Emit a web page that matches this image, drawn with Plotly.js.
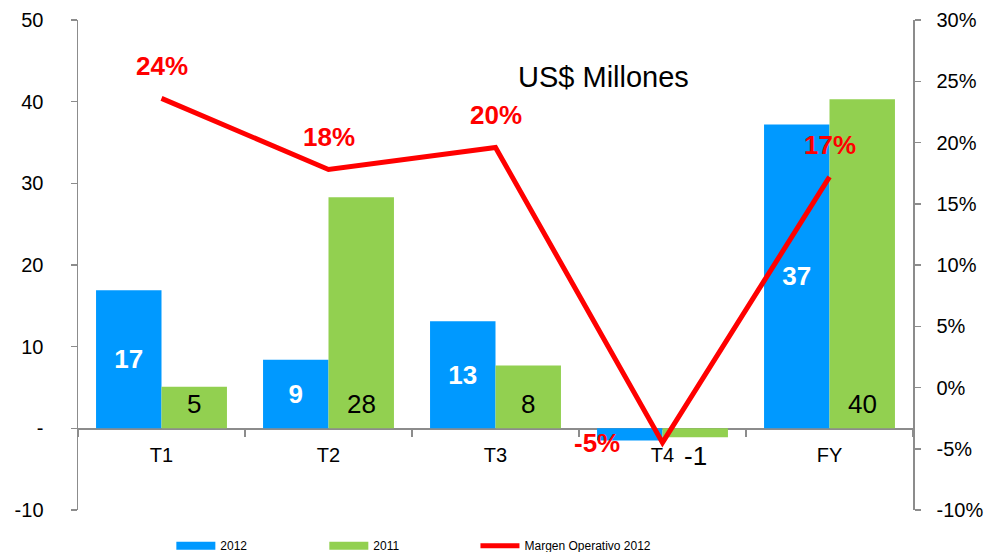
<!DOCTYPE html>
<html>
<head>
<meta charset="utf-8">
<script src="https://cdn.plot.ly/plotly-3.0.1.min.js"></script>
<style>html,body{margin:0;padding:0;background:#fff;}#chart{width:984px;height:552px;}</style>
</head>
<body>
<div id="chart"></div>
<script>
// ---- data ----
const categories = ['T1', 'T2', 'T3', 'T4', 'FY'];
const values2012 = [16.9, 8.4, 13.1, -1.5, 37.2];
const values2011 = [5.1, 28.3, 7.7, -1.1, 40.3];
const labels2012 = ['17', '9', '13', '', '37'];
const labels2011 = ['5', '28', '8', '-1', '40'];
const margin2012 = [0.236, 0.178, 0.196, -0.045, 0.172];
const marginLabels = ['24%', '18%', '20%', '-5%', '17%'];
const leftTickVals = [-10, 0, 10, 20, 30, 40, 50];
const leftTickText = ['-10', '-', '10', '20', '30', '40', '50'];
const rightTickVals = [-0.10, -0.05, 0, 0.05, 0.10, 0.15, 0.20, 0.25, 0.30];
const rightTickText = ['-10%', '-5%', '0%', '5%', '10%', '15%', '20%', '25%', '30%'];
const seriesNames = ['2012', '2011', 'Margen Operativo 2012'];
const chartTitle = 'US$ Millones';

// ---- style ----
const FONT = 'Liberation Sans, Arial, sans-serif';
const BLUE = '#0099FF', GREEN = '#92D050', RED = '#FF0000', AXIS = '#8C8C8C';
const BARGAP = 0.216;
const halfBar = (1 - BARGAP) / 4; // centre offset of each bar in a pair
const TICKSIZE = 20;

const traces = [
  {
    type: 'bar', x: categories, y: values2012, name: seriesNames[0], showlegend: false,
    marker: {color: BLUE}, text: labels2012, textposition: 'inside', insidetextanchor: 'middle',
    textangle: 0, constraintext: 'none',
    textfont: {family: FONT, size: 26, color: '#FFFFFF', weight: 'bold'}, hoverinfo: 'x+y'
  },
  {
    type: 'bar', x: categories, y: values2011, name: seriesNames[1], showlegend: false,
    marker: {color: GREEN}, hoverinfo: 'x+y'
  },
  {
    type: 'scatter', mode: 'lines', x: categories, y: margin2012, yaxis: 'y2',
    name: seriesNames[2], legend: 'legend3', cliponaxis: false,
    line: {color: RED, width: 5}
  },
  {type: 'scatter', mode: 'lines', x: [null], y: [null], name: seriesNames[0], legend: 'legend',
   line: {color: BLUE, width: 8}, hoverinfo: 'skip'},
  {type: 'scatter', mode: 'lines', x: [null], y: [null], name: seriesNames[1], legend: 'legend2',
   line: {color: GREEN, width: 8}, hoverinfo: 'skip'}
];

const annotations = [];
// green bar labels (black, near the base)
values2011.forEach((v, i) => {
  annotations.push({
    xref: 'x', yref: 'y', x: i + halfBar, y: 0, text: labels2011[i], showarrow: false,
    xanchor: 'center', yanchor: 'middle', yshift: v >= 0 ? 24 : -28,
    font: {family: FONT, size: 26, color: '#000000'}
  });
});
// margin labels (red bold)
margin2012.forEach((v, i) => {
  const low = v < 0;
  annotations.push({
    xref: 'x', yref: 'y2', x: i, y: v, text: marginLabels[i], showarrow: false,
    xanchor: 'center', yanchor: 'middle', xshift: low ? -66 : 0, yshift: low ? 0 : 32,
    font: {family: FONT, size: 26, color: RED, weight: 'bold'}
  });
});
annotations.push({
  xref: 'paper', yref: 'paper', x: 0.629, y: 0.884, text: chartTitle, showarrow: false,
  xanchor: 'center', yanchor: 'middle', font: {family: FONT, size: 29, color: '#000000'}
});

function legendAt(xp) {
  return {
    orientation: 'h', x: xp, xanchor: 'left', y: -0.073, yanchor: 'middle',
    font: {family: FONT, size: 12, color: '#000000'}, itemwidth: 39,
    bgcolor: 'rgba(0,0,0,0)', borderwidth: 0
  };
}

const tickFont = {family: FONT, size: TICKSIZE, color: '#000000'};

const layout = {
  width: 984, height: 552,
  margin: {l: 78, r: 71, t: 20, b: 42, autoexpand: false},
  paper_bgcolor: '#FFFFFF', plot_bgcolor: '#FFFFFF',
  font: {family: FONT, color: '#000000'},
  barmode: 'group', bargap: BARGAP, bargroupgap: 0,
  showlegend: true,
  legend: legendAt(0.1118),
  legend2: legendAt(0.295),
  legend3: legendAt(0.476),
  xaxis: {
    type: 'category', anchor: 'free', position: 10 / 60,
    showline: true, linecolor: AXIS, linewidth: 1.5, layer: 'below traces',
    ticks: 'outside', tickson: 'boundaries', ticklen: 7, tickcolor: AXIS, tickwidth: 1.5,
    tickfont: tickFont, ticklabelstandoff: 8,
    showgrid: false, zeroline: false, fixedrange: true
  },
  yaxis: {
    range: [-10, 50], tickvals: leftTickVals, ticktext: leftTickText,
    showline: true, linecolor: AXIS, linewidth: 1.5,
    ticks: 'outside', ticklen: 6, tickcolor: AXIS, tickwidth: 1.5,
    tickfont: tickFont, ticklabelstandoff: 23,
    showgrid: false, zeroline: false, fixedrange: true
  },
  yaxis2: {
    overlaying: 'y', side: 'right', range: [-0.10, 0.30],
    tickvals: rightTickVals, ticktext: rightTickText,
    showline: true, linecolor: AXIS, linewidth: 1.5,
    ticks: 'outside', ticklen: 6, tickcolor: AXIS, tickwidth: 1.5,
    tickfont: tickFont, ticklabelstandoff: 12,
    showgrid: false, zeroline: false, fixedrange: true
  },
  annotations: annotations
};

Plotly.newPlot('chart', traces, layout, {displayModeBar: false, staticPlot: true});
</script>
</body>
</html>
